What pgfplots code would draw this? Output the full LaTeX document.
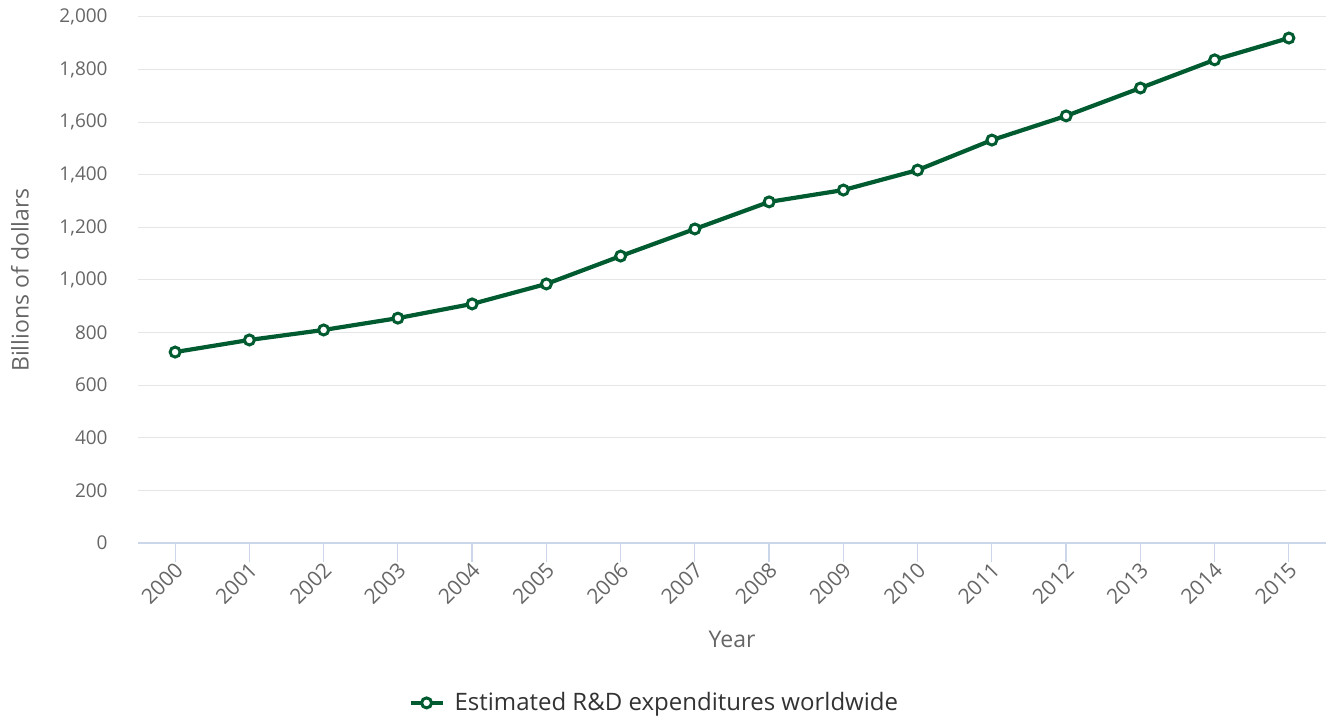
\documentclass[border=0pt]{standalone}
\usepackage{pgfplots}
\pgfplotsset{compat=1.18}
\usepackage{fontspec}
\setmainfont{Open Sans}
\definecolor{rdgreen}{RGB}{0,92,48}
\definecolor{gridgray}{HTML}{E6E6E6}
\definecolor{axisblue}{HTML}{CCD6EB}
\definecolor{labelgray}{HTML}{666666}
\definecolor{legendtext}{HTML}{333333}
\begin{document}
\begin{tikzpicture}
\begin{axis}[
    scale only axis,
    width=594pt, height=263pt,
    xmin=1999.5, xmax=2015.5,
    ymin=0, ymax=2000,
    xtick={2000,...,2015},
    ytick={0,200,...,2000},
    axis x line*=bottom,
    axis y line*=left,
    y axis line style={draw=none},
    ytick style={draw=none},
    ymajorgrids,
    grid style={gridgray, line width=0.5pt},
    x axis line style={axisblue, line width=0.6pt, -},
    xtick style={axisblue, line width=0.6pt},
    xtick align=outside,
    major tick length=9.5pt,
    /pgf/number format/assume math mode=true,
    /pgf/number format/1000 sep={,},
    ticklabel style={font=\fontsize{9.5}{11}\selectfont, text=labelgray},
    xticklabel style={/pgf/number format/1000 sep=, rotate=45, anchor=east, inner sep=0pt,
      yshift=-3pt, font=\fontsize{10.5}{12}\selectfont},
    yticklabel style={anchor=east, inner sep=0pt, xshift=-15pt},
    xlabel={Year},
    ylabel={Billions of dollars},
    label style={font=\fontsize{11.5}{13}\selectfont, text=labelgray},
    xlabel style={at={(axis description cs:0.5,-0.184)}, anchor=center},
    ylabel style={at={(axis description cs:-0.0993,0.5)}, anchor=center, rotate=0},
    legend style={at={(0.438,-0.304)}, anchor=center, draw=none,
      font=\fontsize{12}{14}\selectfont, text=legendtext,
      nodes={inner xsep=5pt}},
    legend image code/.code={%
      \draw[mark repeat=2,mark phase=2] plot coordinates {(0cm,0cm) (0.28cm,0cm) (0.56cm,0cm)};},
]
\addplot[rdgreen, line width=2.1pt, mark=*, mark size=2.5pt,
    mark options={fill=white, draw=rdgreen, line width=1.5pt}]
    coordinates {
    (2000,726) (2001,772) (2002,810) (2003,855) (2004,909)
    (2005,985) (2006,1091) (2007,1194) (2008,1297) (2009,1342)
    (2010,1418) (2011,1532) (2012,1624) (2013,1730) (2014,1837)
    (2015,1920)
    };
\addlegendentry{Estimated R\&D expenditures worldwide}
\end{axis}
\pgfresetboundingbox
\path (-69pt,-89pt) rectangle (596.5pt,271.5pt);
\end{tikzpicture}
\end{document}
